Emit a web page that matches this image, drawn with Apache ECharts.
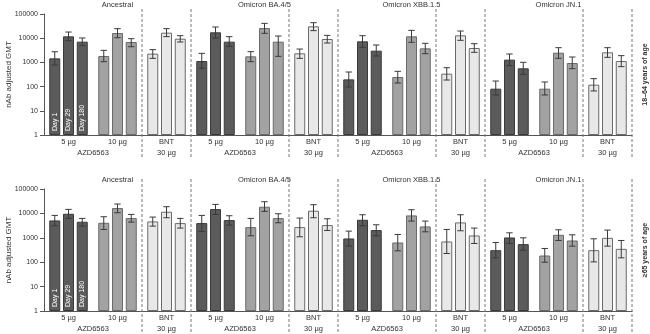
<!DOCTYPE html>
<html>
<head>
<meta charset="utf-8">
<script src="https://cdn.jsdelivr.net/npm/echarts@6/dist/echarts.min.js"></script>
<style>html,body{margin:0;padding:0;background:#fff}#c{width:650px;height:334px}</style>
</head>
<body>
<div id="c"></div>
<script>
// ---- data ----
const panels = ['Ancestral', 'Omicron BA.4/5', 'Omicron XBB.1.5', 'Omicron JN.1'];
const groups = ['5 µg', '10 µg', 'BNT'];
const groupLine2 = ['AZD6563', '30 µg'];
const days = ['Day 1', 'Day 29', 'Day 180'];
const rowLabels = ['18–64 years of age', '≥65 years of age'];
const yTicks = [1, 10, 100, 1000, 10000, 100000];
const separators = [2, 3, 5, 6, 8, 9, 11, 12];

// row 1: 18–64 years (order: Anc 5,10,BNT | BA.4/5 ... | XBB ... | JN.1 ...)
const r1Day1 = [1470, 1840, 2300, 1140, 1780, 2370, 199, 249, 342, 82, 82, 120];
const r1Day1Lo = [780, 1070, 1470, 570, 1070, 1470, 96, 141, 187, 45, 45, 66];
const r1Day1Hi = [2760, 3150, 3360, 2370, 2780, 3560, 401, 428, 604, 170, 155, 213];
const r1Day29 = [11900, 16400, 16900, 17500, 26300, 30900, 7420, 11900, 13100, 1300, 2520, 2610];
const r1Day29Lo = [7900, 10500, 11600, 10200, 15900, 20500, 4200, 6760, 8170, 733, 1470, 1620];
const r1Day29Hi = [18000, 24800, 24800, 29000, 41100, 43800, 12700, 21100, 19800, 2220, 4060, 4060];
const r1Day180 = [7190, 6960, 9560, 7190, 7190, 9270, 3050, 3810, 3940, 569, 944, 1140];
const r1Day180Lo = [4900, 4450, 6960, 4610, 1780, 6330, 1840, 2300, 2610, 321, 551, 667];
const r1Day180Hi = [10200, 9560, 12700, 11600, 12300, 13100, 5240, 6140, 5950, 1006, 1670, 1900];

// row 2: >=65 years
const r2Day1 = [5150, 4130, 4690, 4010, 2740, 2740, 939, 643, 707, 311, 188, 311];
const r2Day1Lo = [3110, 2200, 3010, 1820, 1210, 1100, 455, 292, 227, 151, 100, 103];
const r2Day1Hi = [8280, 7290, 7060, 8280, 6240, 6430, 1880, 1370, 2200, 643, 365, 910];
const r2Day29 = [9680, 16560, 11700, 15070, 18800, 12880, 5490, 8280, 4270, 1032, 1327, 1000];
const r2Day29Lo = [6240, 10650, 6640, 9100, 12100, 6640, 3110, 4840, 1940, 585, 777, 455];
const r2Day29Hi = [14600, 24200, 18800, 23400, 30100, 22700, 8810, 14150, 8810, 1600, 2130, 2070];
const r2Day180 = [4550, 6430, 4010, 5320, 6430, 3320, 2070, 2920, 1250, 549, 777, 353];
const r2Day180Lo = [3010, 4400, 2500, 3320, 4130, 2000, 1210, 1760, 585, 311, 455, 151];
const r2Day180Hi = [6240, 9100, 6240, 8020, 9680, 6040, 3420, 4840, 2500, 1000, 1327, 777];

const rows = [
  { vals: [r1Day1, r1Day29, r1Day180], lo: [r1Day1Lo, r1Day29Lo, r1Day180Lo], hi: [r1Day1Hi, r1Day29Hi, r1Day180Hi] },
  { vals: [r2Day1, r2Day29, r2Day180], lo: [r2Day1Lo, r2Day29Lo, r2Day180Lo], hi: [r2Day1Hi, r2Day29Hi, r2Day180Hi] }
];

// ---- styles ----
const FILL = ['#5b5b5b', '#a2a2a2', '#e8e8e8'];
const BORDER = ['#3a3a3a', '#6a6a6a', '#6a6a6a'];
const TXT = '#333';
const AX = '#555';
const BAR_W = 11, GAP = 0.25;
const FONT = 'Liberation Sans';
const gridsDef = [{ top: 14, height: 121, sepTop: 5 }, { top: 189, height: 122, sepTop: 10 }];

const categories = [];
panels.forEach(() => groups.forEach(g => categories.push(g)));

const chart = echarts.init(document.getElementById('c'), null, { renderer: 'canvas' });

const grid = [], xAxis = [], yAxis = [], series = [], graphic = [];
gridsDef.forEach((g, r) => {
  grid.push({ left: 44, right: 18, top: g.top, height: g.height, containLabel: false, outerBoundsMode: 'none' });
  // category axis (line 1 labels)
  xAxis.push({
    type: 'category', gridIndex: r, data: categories,
    axisLine: { lineStyle: { color: AX, width: 1 } },
    axisTick: { show: false },
    axisLabel: { interval: 0, fontSize: 7.5, color: TXT, margin: 3, fontFamily: FONT }
  });
  // value axis (line 2 labels + separators)
  xAxis.push({
    type: 'value', gridIndex: r, min: 0, max: 12, interval: 0.5, position: 'bottom',
    axisLine: { show: false }, axisTick: { show: false }, splitLine: { show: false },
    axisLabel: {
      fontSize: 7.5, color: TXT, margin: 14, fontFamily: FONT, showMinLabel: true, showMaxLabel: true,
      formatter: v => { const k = Math.round(v * 2) % 6; return k === 2 ? groupLine2[0] : (k === 5 ? groupLine2[1] : ''); }
    }
  });
  // top category axis for panel titles
  xAxis.push({
    type: 'category', gridIndex: r, position: 'top', data: panels,
    axisLine: { show: false }, axisTick: { show: false },
    axisLabel: { interval: 0, fontSize: 7.5, color: TXT, margin: 5, fontFamily: FONT }
  });
  yAxis.push({
    type: 'log', logBase: 10, gridIndex: r, min: 1, max: 100000, offset: 4,
    axisLine: { show: true, lineStyle: { color: AX, width: 1 } },
    axisTick: { show: true, length: 4, lineStyle: { color: AX } },
    splitLine: { show: false },
    axisLabel: { fontSize: 7, color: TXT, margin: 2, fontFamily: FONT, formatter: v => String(Math.round(v)) },
    name: 'nAb adjusted GMT', nameLocation: 'middle', nameGap: 27, nameMoveOverlap: false,
    nameTextStyle: { fontSize: 8, color: TXT, fontFamily: FONT }
  });

  const row = rows[r];
  const catAx = r * 3, valAx = r * 3 + 1;
  row.vals.forEach((vals, j) => {
    series.push({
      type: 'bar', name: days[j], xAxisIndex: catAx, yAxisIndex: r,
      barWidth: BAR_W, barGap: (GAP * 100) + '%',
      data: vals.map((v, i) => {
        const item = { value: v, itemStyle: { color: FILL[i % 3], borderColor: BORDER[i % 3], borderWidth: 1 } };
        if (i === 0) {
          item.label = {
            show: true, position: 'insideBottom', rotate: 90, align: 'left', verticalAlign: 'middle',
            distance: 4, color: '#fff', fontSize: 7, fontFamily: FONT, formatter: days[j]
          };
        }
        return item;
      }),
      z: 2
    });
  });
  row.vals.forEach((vals, j) => {
    const off = (j - 1) * BAR_W * (1 + GAP);
    series.push({
      type: 'custom', xAxisIndex: catAx, yAxisIndex: r, z: 5,
      encode: { x: 0, y: [1, 2] },
      data: row.lo[j].map((lo, i) => [i, lo, row.hi[j][i]]),
      renderItem: (params, api) => {
        const pLo = api.coord([api.value(0), api.value(1)]);
        const pHi = api.coord([api.value(0), api.value(2)]);
        const x = pLo[0] + off, c = 3.2;
        const st = { stroke: '#3a3a3a', lineWidth: 1 };
        return {
          type: 'group', children: [
            { type: 'line', shape: { x1: x, y1: pLo[1], x2: x, y2: pHi[1] }, style: st },
            { type: 'line', shape: { x1: x - c, y1: pLo[1], x2: x + c, y2: pLo[1] }, style: st },
            { type: 'line', shape: { x1: x - c, y1: pHi[1], x2: x + c, y2: pHi[1] }, style: st }
          ]
        };
      }
    });
  });
  // separators
  series.push({
    type: 'custom', xAxisIndex: valAx, yAxisIndex: r, z: 1, clip: false, silent: true,
    encode: { x: 0, y: 1 },
    data: separators.map(s => [s, 10]),
    renderItem: (params, api) => {
      const top = api.coord([api.value(0), 100000]);
      const bot = api.coord([api.value(0), 1]);
      return {
        type: 'line',
        shape: { x1: top[0], y1: top[1] - g.sepTop, x2: top[0], y2: bot[1] + 22 },
        style: { stroke: '#777', lineWidth: 1, lineDash: [3, 2] }
      };
    }
  });
  graphic.push({
    type: 'text', x: 645, y: g.top + g.height / 2, rotation: Math.PI / 2,
    style: { text: rowLabels[r], fontSize: 7, fontWeight: 'bold', fontFamily: FONT, fill: TXT, align: 'center', verticalAlign: 'middle' }
  });
});

chart.setOption({
  animation: false,
  backgroundColor: '#fff',
  textStyle: { fontFamily: FONT },
  grid, xAxis, yAxis, series, graphic
});
</script>
</body>
</html>
